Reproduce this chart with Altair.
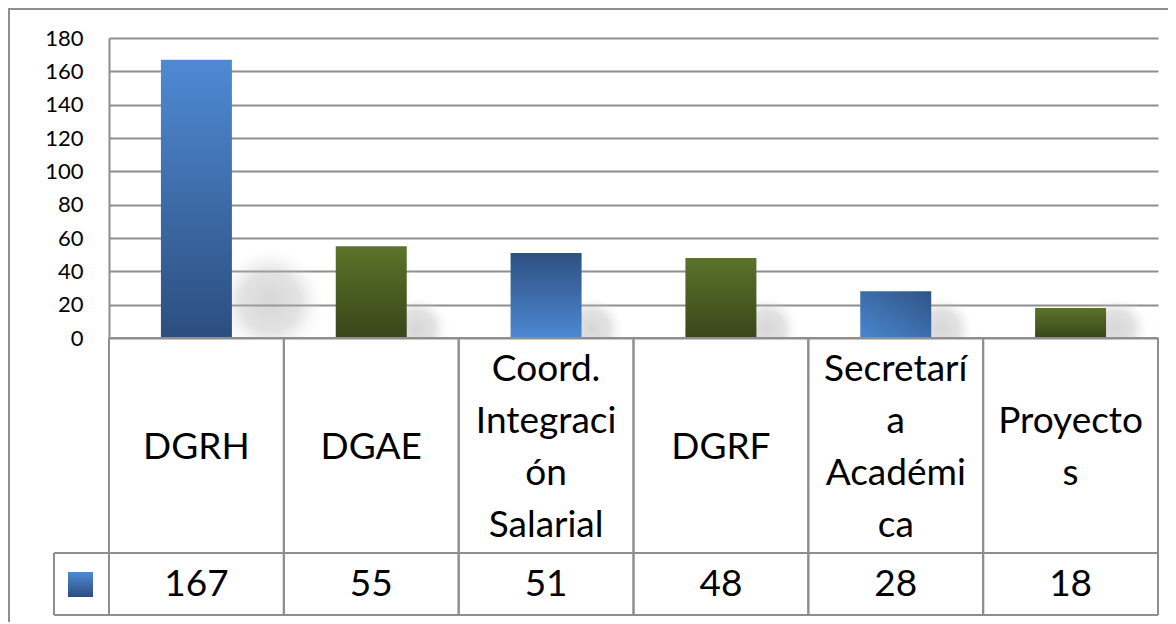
import altair as alt
import pandas as pd

categories = ["DGRH", "DGAE", "Coord. Integración Salarial", "DGRF", "Secretaría Académica", "Proyectos"]
labels = [["DGRH"], ["DGAE"], ["Coord.", "Integraci", "ón", "Salarial"], ["DGRF"],
          ["Secretarí", "a", "Académi", "ca"], ["Proyecto", "s"]]
values = [167, 55, 51, 48, 28, 18]
y_ticks = [0, 20, 40, 60, 80, 100, 120, 140, 160, 180]

W, H = 1049, 300
ROW1 = 515   # bottom of category row (px below plot top)
ROW2 = 577   # bottom of value row
LH = 52
GRAY = "#8e8e8e"
FONT = "Lato"
PX2U = 180 / H  # pixel -> value units

df = pd.DataFrame({"cat": categories, "label": labels, "value": values})
one = pd.DataFrame({"a": [0]})

xs = alt.Scale(paddingInner=0, paddingOuter=0)
X = alt.X("cat:N", sort=categories, scale=xs, axis=None)
ys = alt.Scale(domain=[0, 180], nice=False, zero=True)
AX = alt.Axis(
    values=y_ticks, grid=True, gridColor=GRAY, gridWidth=2, ticks=False,
    domain=True, domainColor=GRAY, domainWidth=2, labelFont=FONT,
    labelFontSize=22, labelColor="black", labelPadding=26, title=None,
)
Y = alt.Y("value:Q", scale=ys, axis=AX)


def grad(c1, c2, x1=0, y1=0, x2=0, y2=1):
    return alt.Gradient(
        gradient="linear",
        stops=[alt.GradientStop(color=c1, offset=0), alt.GradientStop(color=c2, offset=1)],
        x1=x1, y1=y1, x2=x2, y2=y2,
    )


def soft(cx, cy, r):
    return alt.Gradient(
        gradient="radial", x1=cx, y1=cy, r1=0, x2=cx, y2=cy, r2=r,
        stops=[alt.GradientStop(color="rgba(165,165,165,0.45)", offset=0),
               alt.GradientStop(color="rgba(180,180,180,0.38)", offset=0.55),
               alt.GradientStop(color="rgba(230,230,230,0)", offset=1)],
    )


blue_down = grad("#4f8ad4", "#2c4e7e")
blue_up = grad("#2e5082", "#4c88d2")
blue_diag = grad("#4a86d0", "#2f5486", 0, 1, 1, 0)
green = grad("#5b732a", "#39461a")

base = alt.Chart(df)


def bars(cat, fill):
    return base.mark_bar(width=alt.RelativeBandSize(0.406), color=fill).encode(
        x=X, y=Y
    ).transform_filter(alt.datum.cat == cat)


bar_layers = [
    bars(categories[0], blue_down),
    bars(categories[1], green),
    bars(categories[2], blue_up),
    bars(categories[3], green),
    bars(categories[4], blue_diag),
    bars(categories[5], green),
]

# soft drop shadows to the right of the bars (square boxes so the radial fade stays round)
BIG, SMALL = 120, 64
shadow_big = base.mark_bar(width=BIG, color=soft(0.45, 0.7, 0.45), xOffset=80).encode(
    x=X, y=alt.Y("sh:Q", scale=ys, axis=AX)
).transform_filter(alt.datum.value > 100).transform_calculate(sh=f"{BIG * PX2U}")
shadow_small = base.mark_bar(width=SMALL, color=soft(0.4, 0.85, 0.5), xOffset=52).encode(
    x=X, y=alt.Y("sh:Q", scale=ys, axis=AX)
).transform_filter(alt.datum.value <= 100).transform_calculate(sh=f"{SMALL * PX2U}")

# table structure
hline = lambda yv, x0: alt.Chart(one).mark_rule(color=GRAY, strokeWidth=2).encode(
    x=alt.value(x0), x2=alt.value(W), y=alt.value(yv)
)
vleft = base.mark_rule(color=GRAY, strokeWidth=2).encode(
    x=alt.X("cat:N", sort=categories, scale=xs, axis=None, bandPosition=0),
    y=alt.value(H), y2=alt.value(ROW2),
)
vright = base.mark_rule(color=GRAY, strokeWidth=2).encode(
    x=alt.X("cat:N", sort=categories, scale=xs, axis=None, bandPosition=1),
    y=alt.value(H), y2=alt.value(ROW2),
)
vkey = alt.Chart(one).mark_rule(color=GRAY, strokeWidth=2).encode(
    x=alt.value(-55), y=alt.value(ROW1), y2=alt.value(ROW2)
)
key = alt.Chart(one).mark_rect(color=blue_down).encode(
    x=alt.value(-41), x2=alt.value(-16), y=alt.value(534), y2=alt.value(559)
)
border = alt.Chart(one).mark_rect(fillOpacity=0, stroke=GRAY, strokeWidth=2).encode(
    x=alt.value(-100), x2=alt.value(W + 200), y=alt.value(-29), y2=alt.value(H + 500)
)

cat_text = base.mark_text(
    font=FONT, fontSize=37, lineHeight=LH, baseline="middle", align="center", color="black"
).transform_calculate(
    ty=f"{(H + ROW1) / 2 + 2} - (length(datum.label) - 1) * {LH / 2}"
).encode(x=X, y=alt.Y("ty:Q", scale=None), text="label")

val_text = base.mark_text(
    font=FONT, fontSize=37, baseline="middle", align="center", color="black"
).encode(x=X, y=alt.value((ROW1 + ROW2) / 2 + 1), text="value:Q")

chart = alt.layer(
    border, shadow_big, shadow_small, *bar_layers,
    hline(H, 0), hline(ROW1, -55), hline(ROW2, -55),
    vleft, vright, vkey, key, cat_text, val_text,
).properties(
    width=W, height=H,
    autosize=alt.AutoSizeParams(type="none"),
    padding={"left": 101, "top": 30, "right": 10, "bottom": 284},
).configure_view(stroke=None)

chart.save("out.html", embed_options={"renderer": "svg", "actions": False})
